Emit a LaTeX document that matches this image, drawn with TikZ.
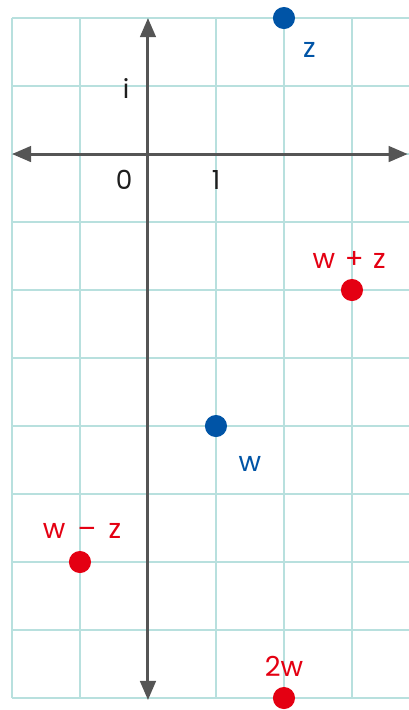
\documentclass[tikz,border=0pt]{standalone}
\usepackage{fontspec}
\setmainfont{Poppins}
\usepackage{xcolor}
\usetikzlibrary{arrows.meta, positioning}
\definecolor{planeGrid}{RGB}{184,224,222}
\definecolor{planeAxis}{RGB}{85,85,85}
\definecolor{planeBlue}{RGB}{0,84,166}
\definecolor{planeRed}{RGB}{228,0,18}
\definecolor{planeInk}{RGB}{30,30,30}

\begin{document}
\begin{tikzpicture}[
    gridline/.style={draw=planeGrid, line width=0.9pt},
    axis/.style={{Triangle[length=8pt, width=6.5pt]}-{Triangle[length=8pt, width=6.5pt]}, draw=planeAxis, line width=1.25pt},
    tick/.style={font=\fontsize{11}{13}\selectfont, text=planeInk, inner sep=1pt},
    dot/.style={circle, inner sep=0pt, minimum size=0.325cm},
    bluedot/.style={dot, fill=planeBlue},
    reddot/.style={dot, fill=planeRed},
    lbl/.style={font=\fontsize{11.5}{13}\selectfont, inner sep=1pt}
]
    \useasboundingbox (-2.176,-8.176) rectangle (3.838,2.265);
    \draw[gridline] (-2,-8) grid (3.9,2);

    % axes
    \coordinate (xleft) at (-2,0);
    \coordinate (xright) at (3.82,0);
    \coordinate (ytop) at (0,2);
    \coordinate (ybottom) at (0,-8.03);
    \draw[axis] (xleft) -- (xright);
    \draw[axis] (ybottom) -- (ytop);

    \node[tick] (unitI) at (-0.32,0.97) {i};
    \node[tick] (zero) at (-0.35,-0.38) {0};
    \node[tick] (one) at (1,-0.38) {1};

    % points
    \node[bluedot] (z) at (2,2) {};
    \node[bluedot] (w) at (1,-4) {};
    \node[reddot] (wpz) at (3,-2) {};
    \node[reddot] (wmz) at (-1,-6) {};
    \node[reddot] (twow) at (2,-8) {};

    \node[lbl, text=planeBlue, below right=0.2cm and 0.12cm of z] (zlabel) {z};
    \node[lbl, text=planeBlue, below right=0.28cm and 0.17cm of w] (wlabel) {w};
    \node[lbl, text=planeRed, above=0.1cm of wpz, xshift=-0.04cm] (wpzlabel) {w\hspace{0.35em}+\hspace{0.35em}z};
    \node[lbl, text=planeRed, above=0.13cm of wmz, xshift=0.03cm] (wmzlabel) {w\hspace{0.45em}–\hspace{0.45em}z};
    \node[lbl, text=planeRed, above=0.1cm of twow] (twowlabel) {2w};
\end{tikzpicture}
\end{document}
